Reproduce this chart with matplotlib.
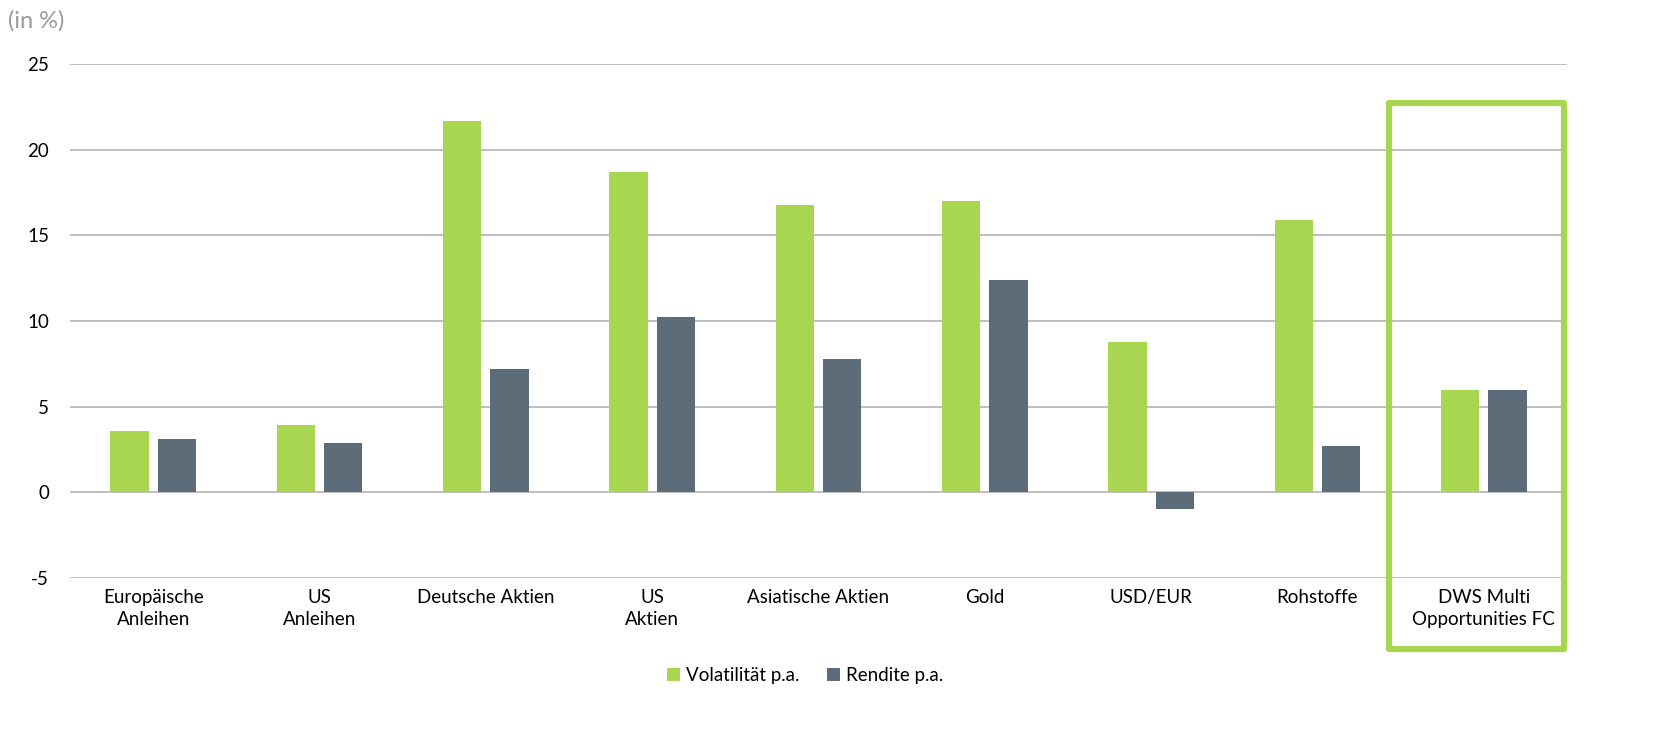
import matplotlib
matplotlib.use("Agg")
import matplotlib.pyplot as plt
import numpy as np
from matplotlib.patches import Rectangle

plt.rcParams['font.family'] = ['Lato', 'DejaVu Sans']

categories = ["Europäische\nAnleihen", "US\nAnleihen", "Deutsche Aktien", "US\nAktien",
              "Asiatische Aktien", "Gold", "USD/EUR", "Rohstoffe", "DWS Multi\nOpportunities FC"]
volatility = [3.6, 3.95, 21.7, 18.7, 16.8, 17.0, 8.8, 15.9, 6.0]
returns = [3.1, 2.9, 7.2, 10.25, 7.8, 12.4, -1.0, 2.7, 6.0]
series_names = ["Volatilität p.a.", "Rendite p.a."]
yticks = [-5, 0, 5, 10, 15, 20, 25]

green = "#a9d651"
gray = "#5b6b77"

fig = plt.figure(figsize=(16.67, 7.3), dpi=100)
ax = fig.add_axes([0.042, 0.2082, 0.898, 0.7041])

x = np.arange(len(categories))
w = 0.23
ax.bar(x - 0.142, volatility, w, color=green, label=series_names[0], zorder=3)
ax.bar(x + 0.142, returns, w, color=gray, label=series_names[1], zorder=3)

ax.set_xlim(-0.5, len(categories) - 0.5)
ax.set_ylim(-5, 25)
ax.set_yticks(yticks)
ax.set_yticklabels([str(t) for t in yticks], fontsize=13.5)
ax.set_xticks(x)
ax.set_xticklabels(categories, fontsize=13.5, linespacing=1.35)
ax.tick_params(axis='both', length=0, pad=8)
ax.tick_params(axis='y', pad=15)
ax.yaxis.grid(True, color="#b3b3b3", linewidth=1.2, zorder=0)
for s in ax.spines.values():
    s.set_visible(False)

# highlight box around last category
rect = Rectangle((7.43, -9.13), 1.05, 31.87, fill=False, edgecolor=green,
                 linewidth=4.5, clip_on=False, zorder=5, joinstyle='round')
ax.add_patch(rect)

fig.text(0.005, 0.972, "(in %)", fontsize=17, color="#9a9a9a", va='center', ha='left')

leg = fig.legend(loc='center', bbox_to_anchor=(0.483, 0.074), ncol=2, frameon=False,
                 fontsize=13.5, handlelength=0.7, handleheight=0.7, handletextpad=0.3,
                 columnspacing=1.5)

fig.savefig("out.png", dpi=100)
